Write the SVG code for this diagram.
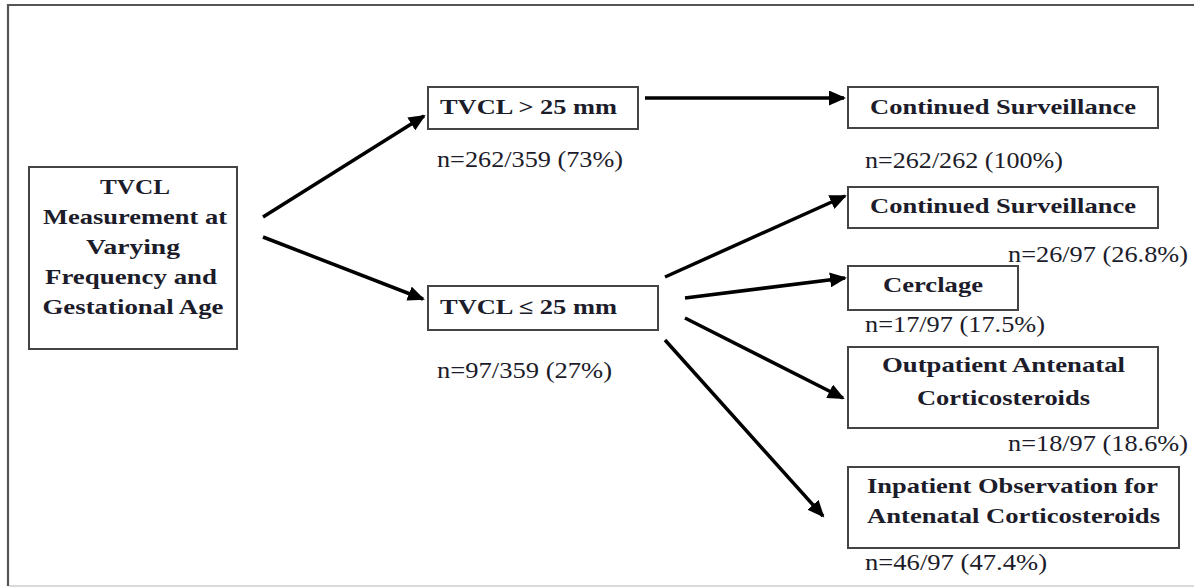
<svg xmlns="http://www.w3.org/2000/svg" width="1194" height="588" viewBox="0 0 1194 588">
<style>
.box{fill:#fff;stroke:#444;stroke-width:2}
.b{font-family:"Liberation Serif","Times New Roman",serif;font-weight:bold;font-size:21px;fill:#1c1c2a}
.r{font-family:"Liberation Serif","Times New Roman",serif;font-size:23px;fill:#1c1c2a}
.c{text-anchor:middle}
.arr{stroke:#000;stroke-width:3.5;fill:none;marker-end:url(#ah)}
</style>
<defs>
<marker id="ah" markerUnits="userSpaceOnUse" markerWidth="18" markerHeight="15" refX="15" refY="7.5" orient="auto">
<path d="M0,0 L17,7.5 L0,15 z" fill="#000"/>
</marker>
</defs>
<rect x="0" y="0" width="1194" height="588" fill="#fff"/>
<path d="M1194,5 L8,5 L8,586" fill="none" stroke="#555" stroke-width="2.2"/>
<line x1="9" y1="586" x2="1194" y2="586" stroke="#ccc" stroke-width="1.5"/>

<g id="connectors">
<line class="arr" x1="263" y1="217" x2="424" y2="116"/>
<line class="arr" x1="263" y1="237" x2="423" y2="299"/>
<line class="arr" x1="645" y1="98" x2="844" y2="98"/>
<line class="arr" x1="665" y1="277" x2="845" y2="196"/>
<line class="arr" x1="685" y1="298" x2="845" y2="278"/>
<line class="arr" x1="685" y1="318" x2="843" y2="398"/>
<line class="arr" x1="665" y1="340" x2="823" y2="516"/>
</g>

<g id="main">
<rect class="box" x="29" y="167" width="208" height="182"/>
<text class="b c" x="135" y="194" textLength="70" lengthAdjust="spacingAndGlyphs">TVCL</text>
<text class="b c" x="135" y="224" textLength="184" lengthAdjust="spacingAndGlyphs">Measurement at</text>
<text class="b c" x="133" y="254" textLength="94" lengthAdjust="spacingAndGlyphs">Varying</text>
<text class="b c" x="131" y="284" textLength="172" lengthAdjust="spacingAndGlyphs">Frequency and</text>
<text class="b c" x="133" y="314" textLength="181" lengthAdjust="spacingAndGlyphs">Gestational Age</text>
</g>

<g id="gt25">
<rect class="box" x="428" y="87" width="210" height="42"/>
<text class="b" x="440" y="114" textLength="177" lengthAdjust="spacingAndGlyphs">TVCL &gt; 25 mm</text>
<text class="r" x="437" y="167" textLength="186" lengthAdjust="spacingAndGlyphs">n=262/359 (73%)</text>
</g>

<g id="le25">
<rect class="box" x="428" y="286" width="230" height="44"/>
<text class="b" x="440" y="314" textLength="177" lengthAdjust="spacingAndGlyphs">TVCL ≤ 25 mm</text>
<text class="r" x="437" y="378" textLength="175" lengthAdjust="spacingAndGlyphs">n=97/359 (27%)</text>
</g>

<g id="cs1">
<rect class="box" x="848" y="87" width="310" height="41"/>
<text class="b" x="870" y="114" textLength="266" lengthAdjust="spacingAndGlyphs">Continued Surveillance</text>
<text class="r" x="865" y="168" textLength="198" lengthAdjust="spacingAndGlyphs">n=262/262 (100%)</text>
</g>

<g id="cs2">
<rect class="box" x="848" y="187" width="310" height="41"/>
<text class="b" x="870" y="213" textLength="266" lengthAdjust="spacingAndGlyphs">Continued Surveillance</text>
<text class="r" x="1008" y="262" textLength="180" lengthAdjust="spacingAndGlyphs">n=26/97 (26.8%)</text>
</g>

<g id="cerclage">
<rect class="box" x="848" y="266" width="170" height="44"/>
<text class="b" x="883" y="292" textLength="100" lengthAdjust="spacingAndGlyphs">Cerclage</text>
<text class="r" x="865" y="332" textLength="180" lengthAdjust="spacingAndGlyphs">n=17/97 (17.5%)</text>
</g>

<g id="outpatient">
<rect class="box" x="848" y="347" width="310" height="81"/>
<text class="b" x="882" y="372" textLength="243" lengthAdjust="spacingAndGlyphs">Outpatient Antenatal</text>
<text class="b" x="917" y="405" textLength="173" lengthAdjust="spacingAndGlyphs">Corticosteroids</text>
<text class="r" x="1008" y="451" textLength="180" lengthAdjust="spacingAndGlyphs">n=18/97 (18.6%)</text>
</g>

<g id="inpatient">
<rect class="box" x="848" y="467" width="331" height="81"/>
<text class="b" x="867" y="493" textLength="291" lengthAdjust="spacingAndGlyphs">Inpatient Observation for</text>
<text class="b" x="867" y="523" textLength="293" lengthAdjust="spacingAndGlyphs">Antenatal Corticosteroids</text>
<text class="r" x="865" y="570" textLength="182" lengthAdjust="spacingAndGlyphs">n=46/97 (47.4%)</text>
</g>
</svg>
